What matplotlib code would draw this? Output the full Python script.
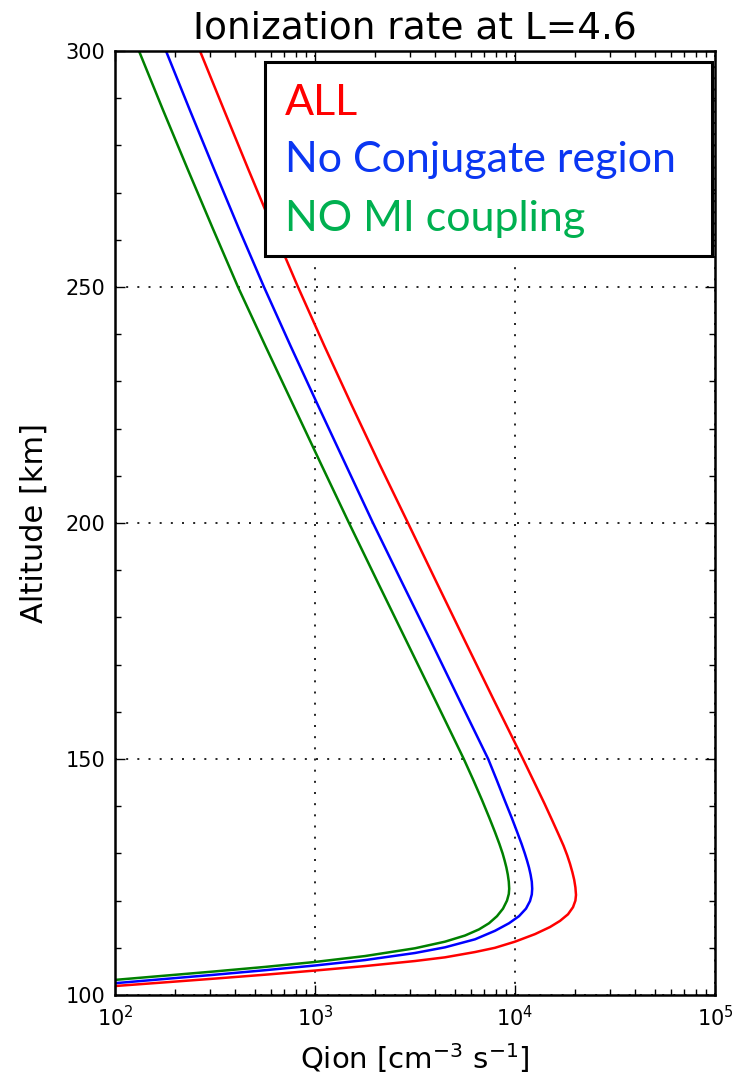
import numpy as np
import matplotlib
matplotlib.use("Agg")
import matplotlib.pyplot as plt
from matplotlib.patches import Rectangle
from matplotlib.ticker import LogLocator, MultipleLocator

# Altitude profiles [km] and log10 of the ionization rate [cm^-3 s^-1]
alt_all = [101.9, 102.68, 103.48, 104.3, 105.18, 106.13, 107.2, 107.98, 109.1,
           110.0, 111.3, 112.9, 114.4, 115.7, 117.1, 118.6, 120.0, 121.2,
           122.8, 124.4, 126.0, 127.8, 129.6, 131.6, 134.0, 137.0, 140.5,
           145.0, 150.0, 162.5, 175.0, 187.5, 200.0, 212.5, 225.0, 237.5,
           250.0, 262.5, 275.0, 287.5, 300.0]
logq_all = [2.0, 2.25, 2.5, 2.75, 3.0, 3.25, 3.5, 3.65, 3.8,
            3.9, 4.0, 4.1, 4.175, 4.225, 4.265, 4.29, 4.302, 4.305,
            4.302, 4.296, 4.287, 4.275, 4.261, 4.243, 4.218, 4.186, 4.148,
            4.097, 4.040, 3.894, 3.750, 3.607, 3.465, 3.322, 3.183, 3.047,
            2.915, 2.789, 2.666, 2.545, 2.425]

alt_noconj = [102.5, 103.4, 104.3, 105.25, 106.25, 107.4, 108.9, 110.1, 111.8,
              113.6, 115.2, 116.7, 118.3, 119.9, 121.3, 122.5, 124.0, 125.5,
              127.0, 128.5, 130.0, 132.0, 134.5, 137.5, 141.3, 145.5, 150.0,
              162.5, 175.0, 187.5, 200.0, 212.5, 225.0, 237.5, 250.0, 262.5,
              275.0, 287.5, 300.0]
logq_noconj = [2.0, 2.25, 2.5, 2.75, 3.0, 3.25, 3.5, 3.65, 3.8,
               3.9, 3.97, 4.02, 4.055, 4.075, 4.084, 4.086, 4.084, 4.078,
               4.070, 4.060, 4.049, 4.033, 4.011, 3.984, 3.948, 3.909, 3.866,
               3.722, 3.579, 3.434, 3.290, 3.152, 3.014, 2.878, 2.745, 2.618,
               2.495, 2.374, 2.255]

alt_nomi = [103.2, 104.1, 105.0, 105.95, 107.0, 108.25, 109.9, 111.3, 112.6,
            113.9, 115.2, 116.7, 118.3, 120.0, 121.4, 122.5, 124.0, 125.5,
            127.0, 128.5, 130.0, 132.0, 134.5, 137.5, 141.3, 145.5, 150.0,
            162.5, 175.0, 187.5, 200.0, 212.5, 225.0, 237.5, 250.0, 262.5,
            275.0, 287.5, 300.0]
logq_nomi = [2.0, 2.25, 2.5, 2.75, 3.0, 3.25, 3.5, 3.65, 3.75,
             3.82, 3.87, 3.91, 3.94, 3.96, 3.969, 3.971, 3.969, 3.964,
             3.957, 3.948, 3.938, 3.922, 3.900, 3.872, 3.835, 3.792, 3.744,
             3.601, 3.457, 3.313, 3.170, 3.030, 2.891, 2.752, 2.615, 2.488,
             2.363, 2.240, 2.120]

legend_labels = ["ALL", "No Conjugate region", "NO MI coupling"]
legend_colors = ["#ff0000", "#0a36f2", "#00b050"]

fig = plt.figure(figsize=(7.37, 10.78), dpi=100, facecolor="white")
ax = fig.add_axes([115 / 737, 1 - 995 / 1078, 600 / 737, 944 / 1078])

for alt, logq, col in ((alt_all, logq_all, "r"),
                       (alt_noconj, logq_noconj, "b"),
                       (alt_nomi, logq_nomi, "g")):
    ax.plot(10.0 ** np.asarray(logq), alt, color=col, lw=1.8,
            solid_joinstyle="round")

ax.set_xscale("log")
ax.set_xlim(1e2, 1e5)
ax.set_ylim(100, 300)
ax.yaxis.set_major_locator(MultipleLocator(50))
ax.yaxis.set_minor_locator(MultipleLocator(10))
ax.xaxis.set_minor_locator(LogLocator(base=10, subs=range(2, 10)))

ax.grid(True, which="major", linestyle=(0, (1.2, 5.5)), color="k", lw=1.2)
ax.tick_params(which="both", direction="in", top=True, right=True, labelsize=15,
               width=1.0)
ax.tick_params(which="major", length=7, pad=7)
ax.tick_params(which="minor", length=4.5)
for s in ax.spines.values():
    s.set_linewidth(1.8)

ax.set_title("Ionization rate at L=4.6", fontsize=27, pad=9)
ax.set_xlabel("Qion [cm$^{-3}$ s$^{-1}$]", fontsize=21, labelpad=8)
ax.set_ylabel("Altitude [km]", fontsize=22, labelpad=12)

# Boxed annotation with coloured labels
box = Rectangle((265 / 737, 1 - 256 / 1078), 447 / 737, 194 / 1078,
                transform=fig.transFigure, facecolor="white", edgecolor="black",
                lw=2.2, zorder=5)
fig.patches.append(box)
baselines = [115, 172, 231]
for lab, col, yb in zip(legend_labels, legend_colors, baselines):
    fig.text(285 / 737, 1 - yb / 1078, lab, color=col, fontsize=31,
             family="Lato", va="baseline", ha="left", zorder=6)

fig.savefig("out.png", dpi=100, facecolor="white")
